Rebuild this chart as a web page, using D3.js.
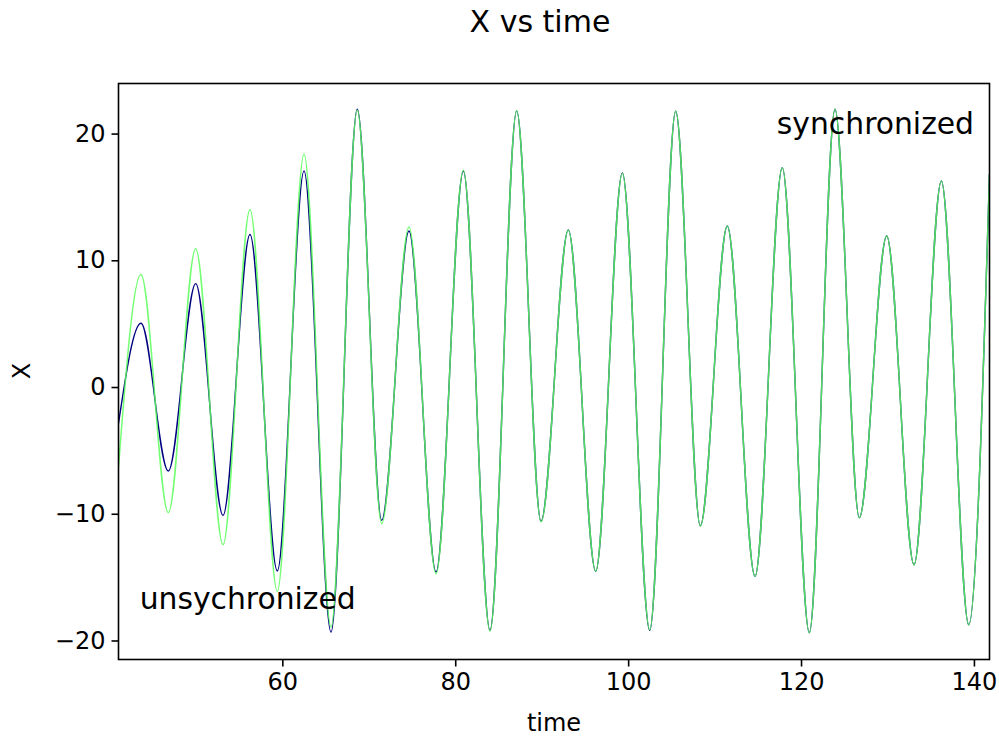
<!DOCTYPE html>
<html>
<head>
<meta charset="utf-8">
<script src="https://cdn.jsdelivr.net/npm/d3@7"></script>
<style>
  html, body { margin: 0; padding: 0; background: #fff; }
  svg { display: block; font-family: "DejaVu Sans", sans-serif; }
</style>
</head>
<body>
<svg id="chart" width="999" height="738"></svg>
<script>
// ---- data (local extrema of each series) ----
const times = [41.05, 43.65, 46.81, 49.98, 53.14, 56.26, 59.42, 62.51, 65.63, 68.67,
               71.49, 74.65, 77.78, 80.94, 84.02, 87.11, 89.92, 93.08, 96.25, 99.33,
               102.5, 105.5, 108.35, 111.47, 114.68, 117.83, 120.96, 123.93, 126.74, 129.91,
               133.07, 136.23, 139.4, 141.8];
const blueX  = [-2.87, 5.03, -6.63, 8.16, -10.13, 12.03, -14.52, 17.05, -19.34, 21.92,
                -10.52, 12.31, -14.6, 17.05, -19.2, 21.79, -10.6, 12.4, -14.55, 16.9,
                -19.2, 21.76, -10.95, 12.71, -14.94, 17.31, -19.39, 21.92, -10.31, 11.92,
                -14.02, 16.26, -18.76, 16.8];
const greenX = [-6.3, 8.87, -9.91, 10.92, -12.44, 14.0, -16.12, 18.37, -18.94, 21.84,
                -10.78, 12.63, -14.73, 17.1, -19.26, 21.79, -10.65, 12.37, -14.52, 16.84,
                -19.15, 21.76, -10.97, 12.71, -14.94, 17.31, -19.39, 21.92, -10.31, 11.92,
                -14.02, 16.26, -18.76, 16.8];
const xTicks = [60, 80, 100, 120, 140];
const yTicks = [-20, -10, 0, 10, 20];
const titleText = "X vs time";
const xLabel = "time";
const yLabel = "X";
const notes = [
  {t: 117.2, v: 20.0, text: "synchronized"},
  {t: 43.5, v: -17.55, text: "unsychronized"}
];

// ---- layout ----
const svg = d3.select("#chart");
const mLeft = 118.5, mRight = 989.5, mTop = 83.5, mBottom = 659.5;
const x = d3.scaleLinear().domain([41.05, 141.8]).range([mLeft, mRight]);
const y = d3.scaleLinear().domain([-21.5, 23.95]).range([mBottom, mTop]);

svg.append("defs").append("clipPath").attr("id", "clip")
  .append("rect").attr("x", mLeft).attr("y", mTop)
  .attr("width", mRight - mLeft).attr("height", mBottom - mTop);

const line = d3.line().x(d => x(d[0])).y(d => y(d[1])).curve(d3.curveMonotoneX);

const g = svg.append("g").attr("clip-path", "url(#clip)");
g.append("path").datum(times.map((t, i) => [t, blueX[i]]))
  .attr("d", line).attr("fill", "none")
  .attr("stroke", "#000080").attr("stroke-width", 1.4);
g.append("path").datum(times.map((t, i) => [t, greenX[i]]))
  .attr("d", line).attr("fill", "none")
  .attr("stroke", "#5cff5c").attr("stroke-opacity", 0.85).attr("stroke-width", 1.5);

// axes
const fmt = d => d < 0 ? "\u2212" + Math.abs(d) : String(d);
const xAxis = svg.append("g").attr("transform", `translate(0,${mBottom})`)
  .call(d3.axisBottom(x).tickValues(xTicks).tickFormat(fmt).tickSizeOuter(0).tickSize(7).tickPadding(6));
const yAxis = svg.append("g").attr("transform", `translate(${mLeft},0)`)
  .call(d3.axisLeft(y).tickValues(yTicks).tickFormat(fmt).tickSizeOuter(0).tickSize(7).tickPadding(6));
[xAxis, yAxis].forEach(a => {
  a.select(".domain").remove();
  a.selectAll(".tick line").attr("stroke", "#000").attr("stroke-width", 1.6);
  a.selectAll(".tick text").attr("fill", "#000")
    .style("font-family", "'DejaVu Sans', sans-serif").style("font-size", "24px");
});

// frame
svg.append("rect").attr("x", mLeft).attr("y", mTop)
  .attr("width", mRight - mLeft).attr("height", mBottom - mTop)
  .attr("fill", "none").attr("stroke", "#000").attr("stroke-width", 1.6);

// labels
svg.append("text").attr("x", 540).attr("y", 32).attr("text-anchor", "middle")
  .style("font-size", "30px").text(titleText);
svg.append("text").attr("x", 554).attr("y", 731).attr("text-anchor", "middle")
  .style("font-size", "24px").text(xLabel);
svg.append("text").attr("transform", "translate(30,371) rotate(-90)").attr("text-anchor", "middle")
  .style("font-size", "24px").text(yLabel);

notes.forEach(n => {
  svg.append("text").attr("x", x(n.t)).attr("y", y(n.v))
    .style("font-size", "29.8px").attr("fill", "#000").text(n.text);
});
</script>
</body>
</html>
